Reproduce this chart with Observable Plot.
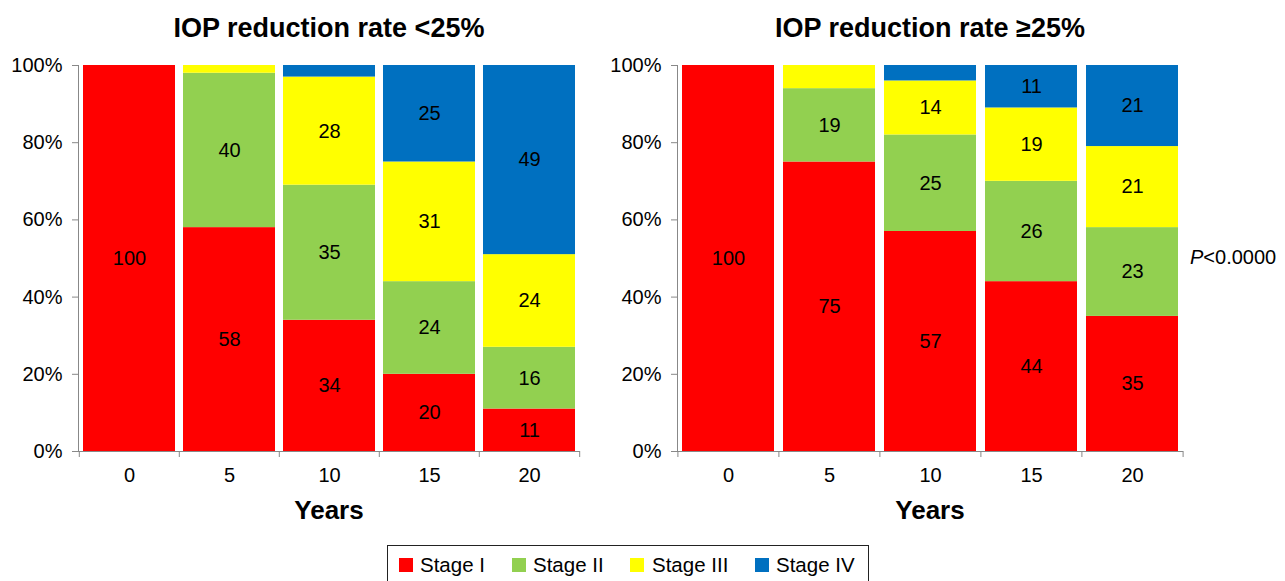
<!DOCTYPE html>
<html>
<head>
<meta charset="utf-8">
<script src="https://cdn.jsdelivr.net/npm/d3@7"></script>
<script src="https://cdn.jsdelivr.net/npm/@observablehq/plot@0.6"></script>
<style>
  html, body { margin: 0; padding: 0; background: #fff; }
  #root { position: relative; width: 1285px; height: 581px; overflow: hidden; font-family: "Liberation Sans", Arial, sans-serif; color: #000; }
  .abs { position: absolute; white-space: nowrap; }
  .title { font-weight: bold; font-size: 27px; transform: translate(-50%, -50%); }
  .xlabel { font-weight: bold; font-size: 26px; transform: translate(-50%, -50%); }
  .pval { font-size: 20px; transform: translateY(-50%); }
  .legend { border: 1px solid #222; box-sizing: border-box; }
  .sw { position: absolute; width: 14px; height: 14px; }
  .lt { position: absolute; font-size: 20.5px; transform: translateY(-50%); }
  #root svg text { fill: #000; }
</style>
</head>
<body>
<div id="root"></div>
<script>
const years = [0, 5, 10, 15, 20];
const stages = ["Stage I", "Stage II", "Stage III", "Stage IV"];
const stageColors = ["#FF0000", "#92D050", "#FFFF00", "#0070C0"];
const yTicks = [0, 20, 40, 60, 80, 100];

// IOP reduction rate <25% (percent per stage, per year)
const lowStageI   = [100, 58, 34, 20, 11];
const lowStageII  = [0, 40, 35, 24, 16];
const lowStageIII = [0, 2, 28, 31, 24];
const lowStageIV  = [0, 0, 3, 25, 49];

// IOP reduction rate >=25%
const highStageI   = [100, 75, 57, 44, 35];
const highStageII  = [0, 19, 25, 26, 23];
const highStageIII = [0, 6, 14, 19, 21];
const highStageIV  = [0, 0, 4, 11, 21];

const titles = ["IOP reduction rate <25%", "IOP reduction rate \u226525%"];
const xTitle = "Years";
const pText = "<0.0000";

function toRows(series) {
  const rows = [];
  years.forEach((y, i) => {
    series.forEach((s, j) => rows.push({year: y, stage: stages[j], value: s[i]}));
  });
  return rows;
}

const root = document.getElementById("root");

function makePanel(rows, left, width, mLeft, mRight) {
  const H = 530, mTop = 65, mBottom = 79;
  const step = (width - mLeft - mRight) / years.length;
  const chart = Plot.plot({
    width, height: H,
    marginLeft: mLeft, marginRight: mRight, marginTop: mTop, marginBottom: mBottom,
    style: {color: "#888", fontFamily: "'Liberation Sans', Arial, sans-serif", fontSize: "20px", background: "transparent", overflow: "visible"},
    x: {type: "band", domain: years, paddingInner: 0.085, paddingOuter: 0.0425, tickSize: 0, tickPadding: 16, label: null},
    y: {domain: [0, 100], ticks: yTicks, tickFormat: d => d + "%", tickSize: 6, tickPadding: 10, line: true, label: null},
    color: {domain: stages, range: stageColors},
    marks: [
      Plot.barY(rows, {x: "year", y: "value", fill: "stage", z: "stage", order: stages}),
      Plot.text(rows, Plot.stackY({x: "year", y: "value", z: "stage", order: stages,
        text: d => d.value >= 10 ? String(d.value) : "", fill: "#000", fontSize: 20})),
      Plot.ruleY([0], {stroke: "#888"}),
      Plot.ruleX(years, {x: d => d, dx: -step / 2, insetTop: H - mTop - mBottom, insetBottom: -6, stroke: "#888"}),
      Plot.ruleX(years.slice(-1), {x: d => d, dx: step / 2, insetTop: H - mTop - mBottom, insetBottom: -6, stroke: "#888"})
    ]
  });
  chart.style.position = "absolute";
  chart.style.left = left + "px";
  chart.style.top = "0px";
  root.appendChild(chart);
  return left + mLeft + (width - mLeft - mRight) / 2;
}

const cL = makePanel(toRows([lowStageI, lowStageII, lowStageIII, lowStageIV]), 0, 640, 78, 60);
const cR = makePanel(toRows([highStageI, highStageII, highStageIII, highStageIV]), 600, 685, 77, 102);

function addDiv(cls, text, x, y) {
  const d = document.createElement("div");
  d.className = "abs " + cls;
  d.textContent = text;
  d.style.left = x + "px";
  d.style.top = y + "px";
  root.appendChild(d);
  return d;
}

addDiv("title", titles[0], cL, 28);
addDiv("title", titles[1], cR, 28);
addDiv("xlabel", xTitle, cL, 510);
addDiv("xlabel", xTitle, cR, 510);
const p = addDiv("pval", "", 1190, 257);
const pi = document.createElement("i"); pi.textContent = "P";
p.appendChild(pi); p.appendChild(document.createTextNode(pText));

// legend
const lg = document.createElement("div");
lg.className = "abs legend";
lg.style.left = "387px"; lg.style.top = "545px"; lg.style.width = "482px"; lg.style.height = "50px";
root.appendChild(lg);
const swX = [399, 512, 630, 755];
const txX = [420, 533, 652, 776];
stages.forEach((s, i) => {
  const sw = document.createElement("div");
  sw.className = "sw";
  sw.style.left = swX[i] + "px"; sw.style.top = "558px"; sw.style.background = stageColors[i];
  root.appendChild(sw);
  const t = document.createElement("div");
  t.className = "lt";
  t.style.left = txX[i] + "px"; t.style.top = "565px";
  t.textContent = s;
  root.appendChild(t);
});
</script>
</body>
</html>
